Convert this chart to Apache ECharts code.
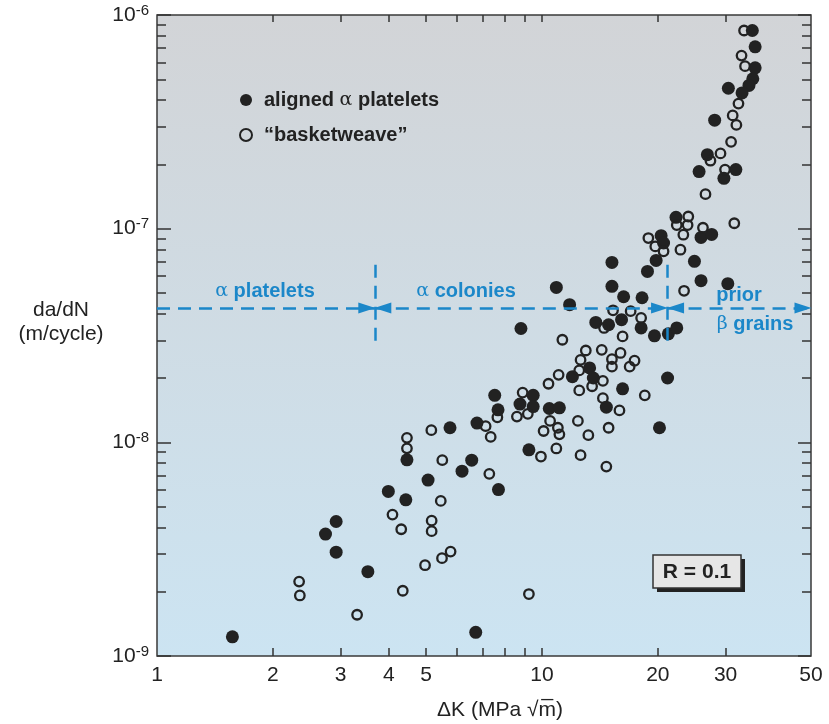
<!DOCTYPE html>
<html>
<head>
<meta charset="utf-8">
<title>da/dN vs ΔK</title>
<script src="https://cdn.jsdelivr.net/npm/echarts@6.0.0/dist/echarts.min.js"></script>
<style>
  html, body { margin: 0; padding: 0; background: #fff; }
  #chart { width: 829px; height: 724px; }
</style>
</head>
<body>
<div id="chart"></div>
<script>
// ---- data (ΔK in MPa√m, da/dN in m/cycle) ----
const alignedK = [35.2, 35.8, 35.8, 35.3, 34.5, 30.5, 33.1, 28.1, 26.9, 25.6,
  31.9, 29.7, 22.3, 20.4, 20.7, 25.9, 27.6, 19.8, 15.2, 18.8,
  24.9, 25.9, 30.4, 10.9, 15.2, 16.3, 18.2, 11.8, 13.8, 14.9,
  16.1, 18.1, 19.6, 21.3, 22.4, 8.82, 13.3, 12.0, 13.6, 21.2,
  16.2, 7.54, 9.49, 8.77, 9.49, 7.69, 14.7, 10.45, 11.1, 20.2,
  9.25, 5.77, 6.78, 4.46, 6.57, 6.20, 5.06, 7.71, 3.99, 4.43,
  2.92, 2.74, 2.92, 3.53, 1.57, 6.73]
const alignedRate = [8.46e-7, 7.10e-7, 5.66e-7, 5.03e-7, 4.68e-7, 4.54e-7, 4.32e-7, 3.22e-7, 2.22e-7, 1.85e-7,
  1.89e-7, 1.72e-7, 1.13e-7, 9.27e-8, 8.57e-8, 9.10e-8, 9.40e-8, 7.10e-8, 6.95e-8, 6.31e-8,
  7.03e-8, 5.71e-8, 5.53e-8, 5.31e-8, 5.37e-8, 4.80e-8, 4.75e-8, 4.41e-8, 3.64e-8, 3.55e-8,
  3.75e-8, 3.43e-8, 3.15e-8, 3.22e-8, 3.43e-8, 3.41e-8, 2.23e-8, 2.03e-8, 2.00e-8, 2.00e-8,
  1.78e-8, 1.66e-8, 1.66e-8, 1.51e-8, 1.47e-8, 1.42e-8, 1.46e-8, 1.44e-8, 1.45e-8, 1.17e-8,
  9.22e-9, 1.17e-8, 1.23e-8, 8.28e-9, 8.25e-9, 7.33e-9, 6.66e-9, 6.01e-9, 5.89e-9, 5.38e-9,
  4.26e-9, 3.72e-9, 3.06e-9, 2.48e-9, 1.23e-9, 1.29e-9]

const basketK = [33.5, 33.0, 33.7, 32.4, 31.3, 32.0, 31.0, 29.1, 27.4, 29.9,
  26.6, 31.6, 24.0, 22.4, 23.9, 18.9, 19.7, 20.7, 23.3, 26.2,
  22.9, 23.4, 15.3, 17.0, 14.5, 18.1, 16.2, 11.3, 13.0, 14.3,
  16.0, 12.6, 15.2, 17.4, 15.2, 16.9, 12.5, 11.05, 10.4, 14.4,
  13.5, 12.5, 18.5, 8.91, 14.4, 15.9, 8.61, 9.19, 7.66, 10.5,
  12.4, 10.1, 11.0, 11.1, 13.2, 14.9, 10.9, 9.94, 12.6, 14.7,
  5.16, 7.14, 7.36, 4.46, 4.46, 5.51, 7.30, 5.46, 4.09, 4.31,
  5.17, 5.17, 5.79, 5.50, 4.97, 2.34, 2.35, 4.35, 3.31, 9.25]
const basketRate = [8.46e-7, 6.46e-7, 5.76e-7, 3.85e-7, 3.39e-7, 3.06e-7, 2.55e-7, 2.25e-7, 2.08e-7, 1.89e-7,
  1.45e-7, 1.06e-7, 1.14e-7, 1.04e-7, 1.04e-7, 9.04e-8, 8.26e-8, 7.83e-8, 9.37e-8, 1.01e-7,
  7.97e-8, 5.12e-8, 4.15e-8, 4.11e-8, 3.43e-8, 3.82e-8, 3.13e-8, 3.02e-8, 2.69e-8, 2.71e-8,
  2.62e-8, 2.43e-8, 2.45e-8, 2.41e-8, 2.26e-8, 2.26e-8, 2.17e-8, 2.07e-8, 1.88e-8, 1.94e-8,
  1.83e-8, 1.75e-8, 1.66e-8, 1.71e-8, 1.61e-8, 1.41e-8, 1.32e-8, 1.36e-8, 1.31e-8, 1.26e-8,
  1.26e-8, 1.13e-8, 1.17e-8, 1.09e-8, 1.08e-8, 1.17e-8, 9.36e-9, 8.58e-9, 8.71e-9, 7.70e-9,
  1.14e-8, 1.19e-8, 1.06e-8, 1.05e-8, 9.37e-9, 8.25e-9, 7.12e-9, 5.32e-9, 4.59e-9, 3.92e-9,
  4.30e-9, 3.84e-9, 3.08e-9, 2.87e-9, 2.66e-9, 2.23e-9, 1.92e-9, 2.02e-9, 1.56e-9, 1.95e-9]

// axis ranges / ticks
const kRange = [1, 50]
const rateRange = [1e-9, 1e-6]
const kTicks = [2, 3, 4, 5, 6, 7, 8, 9, 10, 20, 30]
const kLabels = [1, 2, 3, 4, 5, 10, 20, 30, 50]
const rateDecades = [1e-9, 1e-8, 1e-7, 1e-6]
const minorMult = [2, 3, 4, 5, 6, 7, 8, 9]

// microstructure regions (dashed guide)
const regionBounds = [3.68, 21.2]
const regionRate = 4.25e-8
const dividerSpan = [6.78e-8, 2.92e-8]

const FONT = '"Liberation Sans", Arial, Helvetica, sans-serif'
const DARK = '#222'
const BLUE = '#1b87c9'
const nameA = 'aligned α platelets'
const nameB = '“basketweave”'

const lg = Math.log10
const rateMinor = []
rateDecades.slice(0, -1).forEach(d => minorMult.forEach(m => rateMinor.push(lg(d * m))))

const tickLine = { color: '#333', width: 1.5 }
const frameAxis = (pos, ticks, len, extra) => Object.assign({
  type: 'value', position: pos,
  axisLine: { show: false },
  axisTick: { show: true, inside: true, length: len, customValues: ticks, lineStyle: tickLine },
  axisLabel: { show: false },
  splitLine: { show: false }
}, extra)

const xMin = lg(kRange[0]), xMax = lg(kRange[1])
const yMin = lg(rateRange[0]), yMax = lg(rateRange[1])
const xTickVals = kTicks.map(lg)
const yMajor = rateDecades.map(lg)

const chart = echarts.init(document.getElementById('chart'))

const option = {
  animation: false,
  grid: {
    left: 157, right: 18, top: 15, bottom: 68,
    show: true, borderColor: '#3a3a3a', borderWidth: 1.5,
    backgroundColor: {
      type: 'linear', x: 0, y: 0, x2: 0, y2: 1,
      colorStops: [{ offset: 0, color: '#d2d4d7' }, { offset: 1, color: '#cce4f2' }]
    }
  },
  legend: {
    data: [nameA, nameB],
    orient: 'vertical', left: 234, top: 84, itemGap: 13,
    itemWidth: 12, itemHeight: 12, selectedMode: false,
    formatter: n => n === nameA ? 'aligned {a|α} platelets' : n,
    textStyle: {
      fontFamily: FONT, fontSize: 20, fontWeight: 'bold', color: DARK, lineHeight: 22,
      padding: [0, 0, 0, 7],
      rich: { a: { fontFamily: '"DejaVu Serif", serif', fontSize: 19, fontWeight: 'normal', color: DARK } }
    }
  },
  xAxis: [
    { type: 'log', logBase: 10, min: kRange[0], max: kRange[1], show: false },
    frameAxis('bottom', xTickVals, 8, {
      min: xMin, max: xMax,
      axisLabel: {
        show: true, customValues: kLabels.map(lg), margin: 9,
        formatter: v => String(Math.round(Math.pow(10, v))),
        fontFamily: FONT, fontSize: 21, color: DARK
      }
    }),
    frameAxis('top', xTickVals, 7, { min: xMin, max: xMax })
  ],
  yAxis: [
    { type: 'log', logBase: 10, min: rateRange[0], max: rateRange[1], show: false },
    frameAxis('left', yMajor, 14, {
      min: yMin, max: yMax,
      axisLabel: {
        show: true, customValues: yMajor, margin: 8,
        formatter: v => '{b|10}{s|' + Math.round(v) + '}',
        rich: {
          b: { fontFamily: FONT, fontSize: 21, color: DARK, lineHeight: 24 },
          s: { fontFamily: FONT, fontSize: 15, color: DARK, lineHeight: 15, verticalAlign: 'top' }
        }
      }
    }),
    frameAxis('left', rateMinor, 9, { min: yMin, max: yMax }),
    frameAxis('right', yMajor, 13, { min: yMin, max: yMax }),
    frameAxis('right', rateMinor, 9, { min: yMin, max: yMax })
  ],
  series: [
    {
      name: nameA, type: 'scatter', xAxisIndex: 0, yAxisIndex: 0,
      symbol: 'circle', symbolSize: 13,
      itemStyle: { color: DARK, opacity: 1 },
      emphasis: { disabled: true },
      data: alignedK.map((k, i) => [k, alignedRate[i]])
    },
    {
      name: nameB, type: 'scatter', xAxisIndex: 0, yAxisIndex: 0,
      symbol: 'circle', symbolSize: 9.5,
      itemStyle: { color: 'rgba(0,0,0,0)', borderColor: DARK, borderWidth: 2.3, opacity: 1 },
      emphasis: { disabled: true },
      data: basketK.map((k, i) => [k, basketRate[i]])
    },
    {
      // dashed region guide
      name: 'regions', type: 'scatter', xAxisIndex: 0, yAxisIndex: 0, data: [],
      markLine: {
        silent: true, animation: false,
        symbol: ['none', 'none'], symbolSize: [11, 17],
        symbolOffset: [[0, 8], [0, 8]],
        label: { show: false },
        lineStyle: { color: BLUE, width: 2.5, type: [13, 8] },
        data: [
          [{ coord: [kRange[0], regionRate], symbol: 'none' }, { coord: [regionBounds[0], regionRate], symbol: 'triangle' }],
          [{ coord: [regionBounds[0], regionRate], symbol: 'triangle' }, { coord: [regionBounds[1], regionRate], symbol: 'triangle' }],
          [{ coord: [regionBounds[1], regionRate], symbol: 'triangle' }, { coord: [kRange[1], regionRate], symbol: 'triangle' }],
          [{ coord: [regionBounds[0], dividerSpan[0]] }, { coord: [regionBounds[0], dividerSpan[1]] }],
          [{ coord: [regionBounds[1], dividerSpan[0]] }, { coord: [regionBounds[1], dividerSpan[1]] }]
        ]
      }
    }
  ],
  graphic: [
    { type: 'text', x: 61, y: 310, style: { text: 'da/dN', fontFamily: FONT, fontSize: 21, fill: DARK, align: 'center', verticalAlign: 'middle' } },
    { type: 'text', x: 61, y: 334, style: { text: '(m/cycle)', fontFamily: FONT, fontSize: 21, fill: DARK, align: 'center', verticalAlign: 'middle' } },
    { type: 'text', x: 500, y: 710, style: { text: 'ΔK (MPa √m̅)', fontFamily: FONT, fontSize: 21, fill: DARK, align: 'center', verticalAlign: 'middle' } },
    // region labels
    { type: 'text', x: 265, y: 291, style: { text: '{a|α} platelets', fontFamily: FONT, fontSize: 20, fontWeight: 'bold', fill: BLUE, align: 'center', verticalAlign: 'middle',
      rich: { a: { fontFamily: '"DejaVu Serif", serif', fontSize: 19, fontWeight: 'normal', fill: BLUE } } } },
    { type: 'text', x: 466, y: 291, style: { text: '{a|α} colonies', fontFamily: FONT, fontSize: 20, fontWeight: 'bold', fill: BLUE, align: 'center', verticalAlign: 'middle',
      rich: { a: { fontFamily: '"DejaVu Serif", serif', fontSize: 19, fontWeight: 'normal', fill: BLUE } } } },
    { type: 'text', x: 739, y: 295, style: { text: 'prior', fontFamily: FONT, fontSize: 20, fontWeight: 'bold', fill: BLUE, align: 'center', verticalAlign: 'middle' } },
    { type: 'text', x: 755, y: 324, style: { text: '{a|β} grains', fontFamily: FONT, fontSize: 20, fontWeight: 'bold', fill: BLUE, align: 'center', verticalAlign: 'middle',
      rich: { a: { fontFamily: '"DejaVu Serif", serif', fontSize: 19, fontWeight: 'normal', fill: BLUE } } } },
    // R box
    { type: 'rect', shape: { x: 657, y: 559, width: 88, height: 33 }, style: { fill: '#222' } },
    { type: 'rect', shape: { x: 653, y: 555, width: 88, height: 33 }, style: { fill: '#e6e6e6', stroke: '#333', lineWidth: 1.5 } },
    { type: 'text', x: 697, y: 572, style: { text: 'R = 0.1', fontFamily: FONT, fontSize: 21, fontWeight: 'bold', fill: DARK, align: 'center', verticalAlign: 'middle' } }
  ]
}

chart.setOption(option)
window.addEventListener('resize', () => {
  chart.resize()
})
</script>
</body>
</html>
